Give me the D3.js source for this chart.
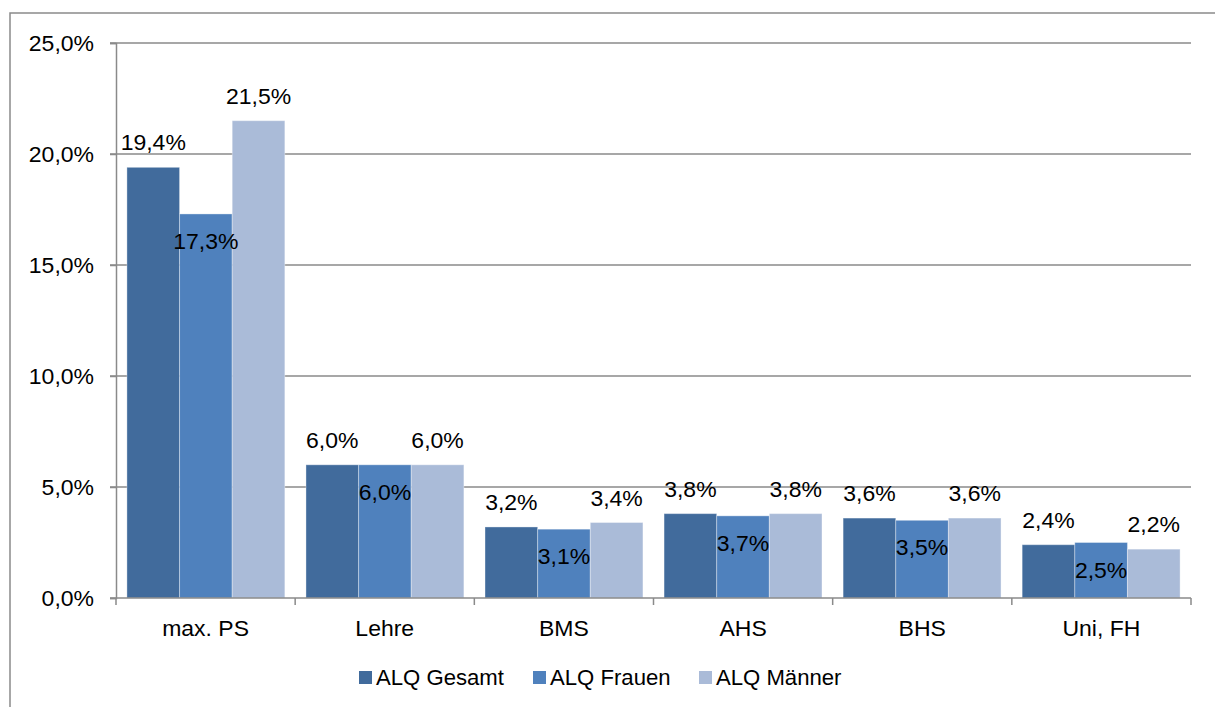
<!DOCTYPE html>
<html><head><meta charset="utf-8">
<script src="https://cdn.jsdelivr.net/npm/d3@7"></script>
<style>
html,body{margin:0;padding:0;background:#fff;}
text{font-family:"Liberation Sans",Arial,sans-serif;fill:#000;}
</style></head>
<body>
<svg id="chart" width="1215" height="707"></svg>
<script>
const categories = ["max. PS","Lehre","BMS","AHS","BHS","Uni, FH"];
const seriesNames = ["ALQ Gesamt","ALQ Frauen","ALQ Männer"];
const gesamt = [19.4, 6.0, 3.2, 3.8, 3.6, 2.4];
const frauen = [17.3, 6.0, 3.1, 3.7, 3.5, 2.5];
const maenner = [21.5, 6.0, 3.4, 3.8, 3.6, 2.2];
const yTicks = [0,5,10,15,20,25];
const colors = ["#416B9C","#4F81BD","#AABBD8"];

const seriesValues = [gesamt, frauen, maenner];
const svg = d3.select("#chart");
const FS = 21.5, SX = 1.07;
const gray = "#8a8a8a";

// outer frame
svg.append("rect").attr("x",10).attr("y",13).attr("width",1240).attr("height",720)
  .attr("fill","none").attr("stroke",gray).attr("stroke-width",1.5);

const x = d3.scaleBand().domain(categories).range([116,1191]).paddingInner(0.118).paddingOuter(0.061);
const xs = d3.scaleBand().domain(seriesNames).range([0,x.bandwidth()]).padding(0);
const y = d3.scaleLinear().domain([0,25]).range([598,43]);

function txt(g, s, px, py, anchor, sx){
  return g.append("text").attr("transform",`translate(${px},${py}) scale(${sx||SX},1)`)
    .attr("text-anchor",anchor).style("font-size",FS+"px").text(s);
}
const fmt = v => v.toFixed(1).replace(".",",") + "%";

// gridlines
svg.append("g").selectAll("line").data(yTicks.filter(d=>d>0)).join("line")
  .attr("x1",110).attr("x2",1191).attr("y1",d=>y(d)).attr("y2",d=>y(d))
  .attr("stroke",gray).attr("stroke-width",1.5);

// y axis
const yAxis = svg.append("g").attr("transform","translate(116,0)")
  .call(d3.axisLeft(y).tickValues(yTicks).tickSize(6).tickFormat(()=>"" ));
yAxis.select(".domain").attr("stroke",gray).attr("stroke-width",1.5);
yAxis.selectAll(".tick line").attr("stroke",gray).attr("stroke-width",1.5);
yTicks.forEach(t=>txt(svg, fmt(t), 94, y(t)+7.5, "end"));

// bars
const groups = svg.append("g").selectAll("g").data(categories).join("g")
  .attr("transform",d=>`translate(${x(d)},0)`);
seriesNames.forEach((s,si)=>{
  groups.append("rect")
    .attr("x",xs(s)).attr("width",xs.bandwidth())
    .attr("y",(d,i)=>y(seriesValues[si][i]))
    .attr("height",(d,i)=>y(0)-y(seriesValues[si][i]))
    .attr("fill",colors[si])
    .attr("stroke","rgba(255,255,255,0.35)").attr("stroke-width",1);
});

// x axis
const xAxis = svg.append("g").attr("transform","translate(0,598)");
xAxis.append("line").attr("x1",110).attr("x2",1191).attr("y1",0).attr("y2",0)
  .attr("stroke",gray).attr("stroke-width",1.5);
const xTickPos = d3.range(categories.length+1).map(i=>116 + i*(1191-116)/categories.length);
xAxis.selectAll("line.t").data(xTickPos).join("line").attr("class","t")
  .attr("x1",d=>d).attr("x2",d=>d).attr("y1",0).attr("y2",7)
  .attr("stroke",gray).attr("stroke-width",1.5);
categories.forEach((c,i)=>{
  const cx = 116 + (i+0.5)*(1191-116)/categories.length;
  txt(svg, c, cx, 636, "middle");
});

// data labels
const lbl = svg.append("g");
categories.forEach((c,i)=>{
  seriesNames.forEach((s,si)=>{
    const v = seriesValues[si][i];
    const cx = x(c) + xs(s) + xs.bandwidth()/2;
    const py = si===1 ? y(v)+35 : y(v)-17;
    txt(lbl, fmt(v), cx, py, "middle");
  });
});

// legend
const legX = [359, 533, 699];
const leg = svg.append("g");
seriesNames.forEach((s,si)=>{
  leg.append("rect").attr("x",legX[si]).attr("y",671).attr("width",13).attr("height",13).attr("fill",colors[si]);
  txt(leg, s, legX[si]+17, 685, "start", 1.03);
});
</script>
</body></html>
